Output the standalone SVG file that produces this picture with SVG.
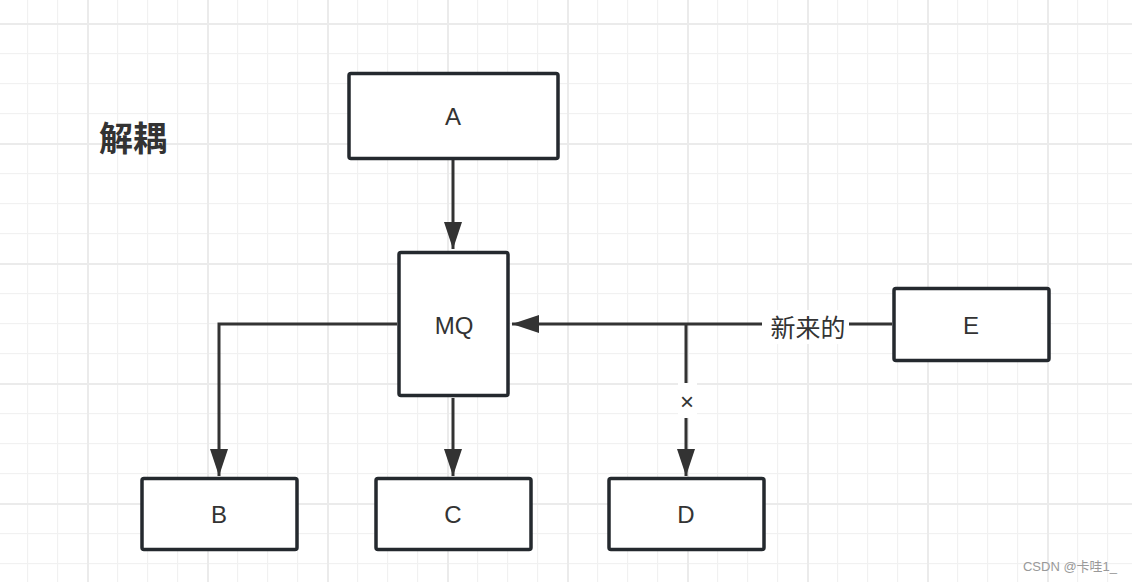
<svg xmlns="http://www.w3.org/2000/svg" width="1132" height="582" viewBox="0 0 1132 582">
<style>
.box{fill:#fff;stroke:#24292e;stroke-width:3.5}
.lbl{font-family:"Liberation Sans","Noto Sans CJK SC",sans-serif;font-size:24px;fill:#333;text-anchor:middle;dominant-baseline:central}
.edge{fill:none;stroke:#333;stroke-width:3}
.cjk{font-family:"Noto Sans CJK SC",sans-serif;font-size:25px;fill:#333;text-anchor:middle;dominant-baseline:central}
</style>
<defs>
<pattern id="grid" patternUnits="userSpaceOnUse" x="-33" y="23" width="120" height="120">
<rect x="30" y="0" width="1.2" height="120" fill="#f1f1f1"/>
<rect x="60" y="0" width="1.2" height="120" fill="#f1f1f1"/>
<rect x="90" y="0" width="1.2" height="120" fill="#f1f1f1"/>
<rect x="0" y="30" width="120" height="1.2" fill="#f1f1f1"/>
<rect x="0" y="60" width="120" height="1.2" fill="#f1f1f1"/>
<rect x="0" y="90" width="120" height="1.2" fill="#f1f1f1"/>
<rect x="0" y="0" width="2" height="120" fill="#ebebeb"/>
<rect x="0" y="0" width="120" height="2" fill="#ebebeb"/>
</pattern>
<marker id="arr" viewBox="0 0 27 18" refX="27" refY="9" markerWidth="27" markerHeight="18" markerUnits="userSpaceOnUse" orient="auto">
<path d="M0,0 L27,9 L0,18 Z" fill="#333"/>
</marker>
</defs>
<rect x="0" y="0" width="1132" height="582" fill="#fff"/>
<rect x="0" y="0" width="1132" height="582" fill="url(#grid)"/>
<text x="133" y="136" font-family="'Noto Sans CJK SC',sans-serif" font-size="34" font-weight="bold" fill="#333" text-anchor="middle" dominant-baseline="central">解耦</text>
<g id="connectors">
<path class="edge" d="M453,160 L453,249" marker-end="url(#arr)"/>
<path class="edge" d="M397,324 L219,324 L219,476" marker-end="url(#arr)"/>
<path class="edge" d="M453,398 L453,476" marker-end="url(#arr)"/>
<path class="edge" d="M892,324 L512,324" marker-end="url(#arr)"/>
<path class="edge" d="M686,324 L686,476" marker-end="url(#arr)"/>
<rect x="762" y="310" width="87" height="34" fill="#fff"/>
<text class="cjk" x="808" y="326">新来的</text>
<rect x="678" y="383" width="19" height="35" fill="#fff"/>
<text class="lbl" x="687" y="401" font-size="20">×</text>
</g>
<g id="A"><rect class="box" x="349" y="73.5" width="209" height="85" rx="2"/><text class="lbl" x="453" y="116">A</text></g>
<g id="MQ"><rect class="box" x="399" y="252.5" width="109" height="143" rx="2"/><text class="lbl" x="454" y="325">MQ</text></g>
<g id="E"><rect class="box" x="894" y="288.5" width="155" height="72" rx="2"/><text class="lbl" x="971" y="325">E</text></g>
<g id="B"><rect class="box" x="142" y="478.5" width="155" height="71" rx="2"/><text class="lbl" x="219" y="514">B</text></g>
<g id="C"><rect class="box" x="376" y="478.5" width="155" height="71" rx="2"/><text class="lbl" x="453" y="514">C</text></g>
<g id="D"><rect class="box" x="609" y="478.5" width="155" height="71" rx="2"/><text class="lbl" x="686" y="514">D</text></g>
<text x="1070" y="566" font-family="'Liberation Sans','Noto Sans CJK SC',sans-serif" font-size="13" fill="#999" text-anchor="middle" dominant-baseline="central">CSDN @卡哇1_</text>
</svg>
